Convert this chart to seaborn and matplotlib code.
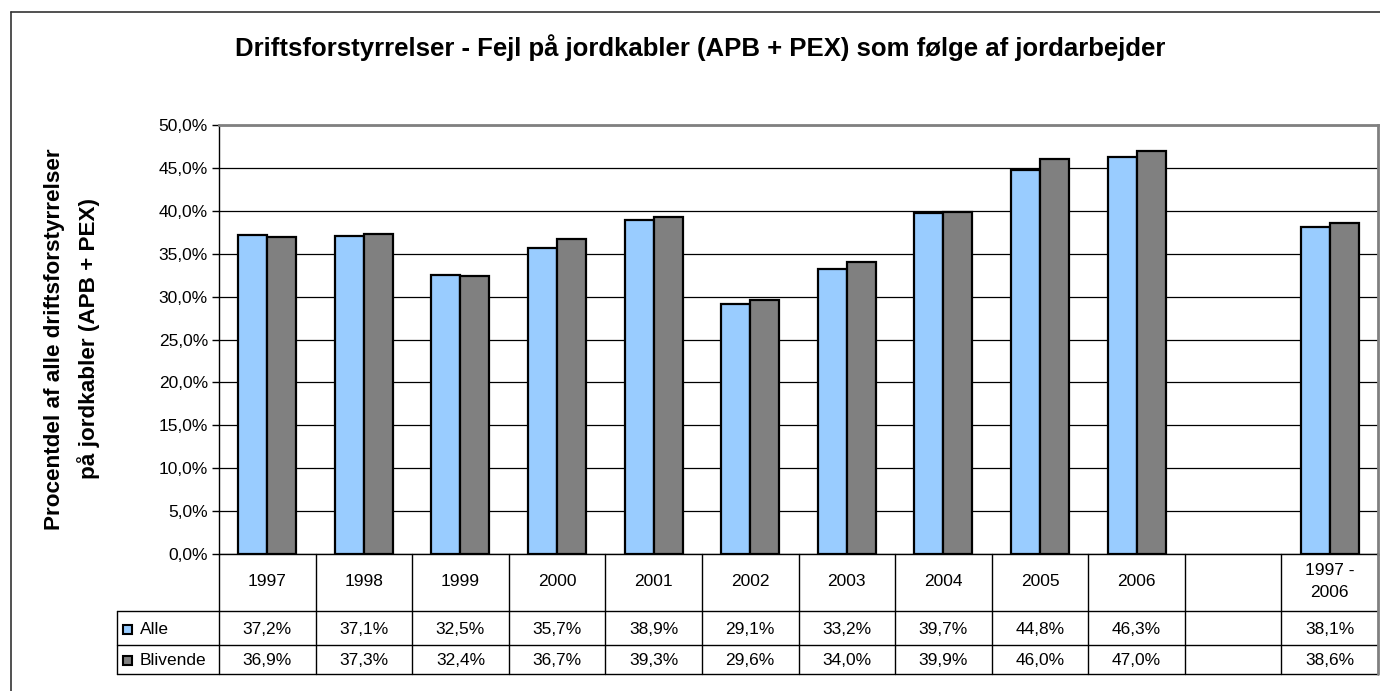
import numpy as np
import pandas as pd
import matplotlib
matplotlib.use("Agg")
import matplotlib.pyplot as plt
import seaborn as sns
from matplotlib.lines import Line2D
from matplotlib.patches import Rectangle

# --------------------------------
# Data (read from the chart's data table)
# --------------------------------

categories = ["1997", "1998", "1999", "2000", "2001", "2002", "2003",
              "2004", "2005", "2006", "", "1997 -\n2006"]
series_names = ["Alle", "Blivende"]
alle = [37.2, 37.1, 32.5, 35.7, 38.9, 29.1, 33.2, 39.7, 44.8, 46.3, None, 38.1]
blivende = [36.9, 37.3, 32.4, 36.7, 39.3, 29.6, 34.0, 39.9, 46.0, 47.0, None, 38.6]
colors = ["#99CCFF", "#808080"]

df = pd.DataFrame({
    "Periode": categories * 2,
    "Serie": [series_names[0]] * len(categories) + [series_names[1]] * len(categories),
    "Værdi": alle + blivende,
}).dropna(subset=["Værdi"])

sns.set_style("white")
plt.rcParams["font.family"] = ["Liberation Sans", "DejaVu Sans"]
for key in ["text.color", "axes.labelcolor", "xtick.color", "ytick.color"]:
    plt.rcParams[key] = "black"

W, H = 1380, 691
fig = plt.figure(figsize=(W / 100, H / 100), dpi=100)

# pixel positions of the plot area
ax_left, ax_right, ax_top, ax_bottom = 219, 1378, 125, 554
ax = fig.add_axes([ax_left / W, 1 - ax_bottom / H,
                   (ax_right - ax_left) / W, (ax_bottom - ax_top) / H])

sns.barplot(data=df, x="Periode", y="Værdi", hue="Serie", order=categories,
            hue_order=series_names, palette=colors, width=0.6,
            edgecolor="black", linewidth=1.6, saturation=1,
            legend=False, ax=ax)

ax.set_xlim(-0.5, len(categories) - 0.5)
ax.set_ylim(0, 50)
ticks = np.arange(0, 50.1, 5)
ax.set_yticks(ticks)
ax.set_yticklabels([f"{v:.1f}%".replace(".", ",") for v in ticks], fontsize=12.5)
ax.tick_params(axis="y", length=5, width=1, color="black", pad=3, left=True)
ax.set_xticks([])
ax.set_xlabel("")
ax.set_ylabel("")
ax.yaxis.grid(True, color="black", linewidth=0.9)
ax.set_axisbelow(True)
for side in ["top", "right"]:
    ax.spines[side].set_color("#808080")
    ax.spines[side].set_linewidth(2)
ax.spines["left"].set_color("black")
ax.spines["left"].set_linewidth(1)
ax.spines["bottom"].set_visible(False)

fig.text(72 / W, 1 - 339 / H,
         "Procentdel af alle driftsforstyrrelser\npå jordkabler (APB + PEX)",
         rotation=90, ha="center", va="center", fontsize=16.2,
         fontweight="bold", linespacing=1.7, multialignment="center")

# --------------------------------
# Data table below the plot
# --------------------------------

tbl_left, tbl_bottom = 117, 674
row_edges = [554, 611, 645, 674]  # header, Alle, Blivende
cat_w = (ax_right - ax_left) / len(categories)
leg_w = (ax_left - tbl_left) / cat_w

tax = fig.add_axes([tbl_left / W, 1 - tbl_bottom / H,
                    (ax_right - tbl_left) / W, (tbl_bottom - row_edges[0]) / H])
tax.set_xlim(-0.5 - leg_w, len(categories) - 0.5)
tax.set_ylim(tbl_bottom - row_edges[0], 0)
tax.axis("off")

y0 = [r - row_edges[0] for r in row_edges]
lc = "black"
lw = 1
# horizontal lines
tax.plot([-0.5, len(categories) - 0.5], [y0[0], y0[0]], color=lc, lw=lw, clip_on=False)
for y in y0[1:]:
    tax.plot([-0.5 - leg_w, len(categories) - 0.5], [y, y], color=lc, lw=lw, clip_on=False)
# vertical lines
for k in range(len(categories)):
    tax.plot([k - 0.5, k - 0.5], [y0[0], y0[3]], color=lc, lw=lw, clip_on=False)
tax.plot([-0.5 - leg_w] * 2, [y0[1], y0[3]], color=lc, lw=lw, clip_on=False)
tax.plot([len(categories) - 0.5] * 2, [y0[0], y0[3]], color="#808080", lw=2, clip_on=False)

fs = 12.5
for i, cat in enumerate(categories):
    tax.text(i, (y0[0] + y0[1]) / 2 - 1, cat, ha="center", va="center",
             fontsize=fs, linespacing=1.65)
for row, (vals, name, col) in enumerate(zip([alle, blivende], series_names, colors)):
    yc = (y0[row + 1] + y0[row + 2]) / 2 + 1
    for i, v in enumerate(vals):
        if v is not None:
            tax.text(i, yc, f"{v:.1f}%".replace(".", ","), ha="center",
                     va="center", fontsize=fs)
    tax.add_patch(Rectangle((-0.5 - leg_w + 0.065, yc - 4.5), 0.095, 9,
                            facecolor=col, edgecolor="black", lw=1.5, clip_on=False))
    tax.text(-0.5 - leg_w + 0.235, yc, name, ha="left", va="center", fontsize=fs)

# --------------------------------
# Title and chart frame
# --------------------------------

fig.text(700 / W, 1 - 48 / H,
         "Driftsforstyrrelser - Fejl på jordkabler (APB + PEX) som følge af jordarbejder",
         ha="center", va="center", fontsize=18.5, fontweight="bold")

fig.add_artist(Line2D([11 / W, 11 / W], [0, 1 - 12 / H], color="#333333", lw=1.2))
fig.add_artist(Line2D([11 / W, 1], [1 - 12 / H, 1 - 12 / H], color="#333333", lw=1.2))

fig.savefig("out.png", dpi=100, facecolor="white")
